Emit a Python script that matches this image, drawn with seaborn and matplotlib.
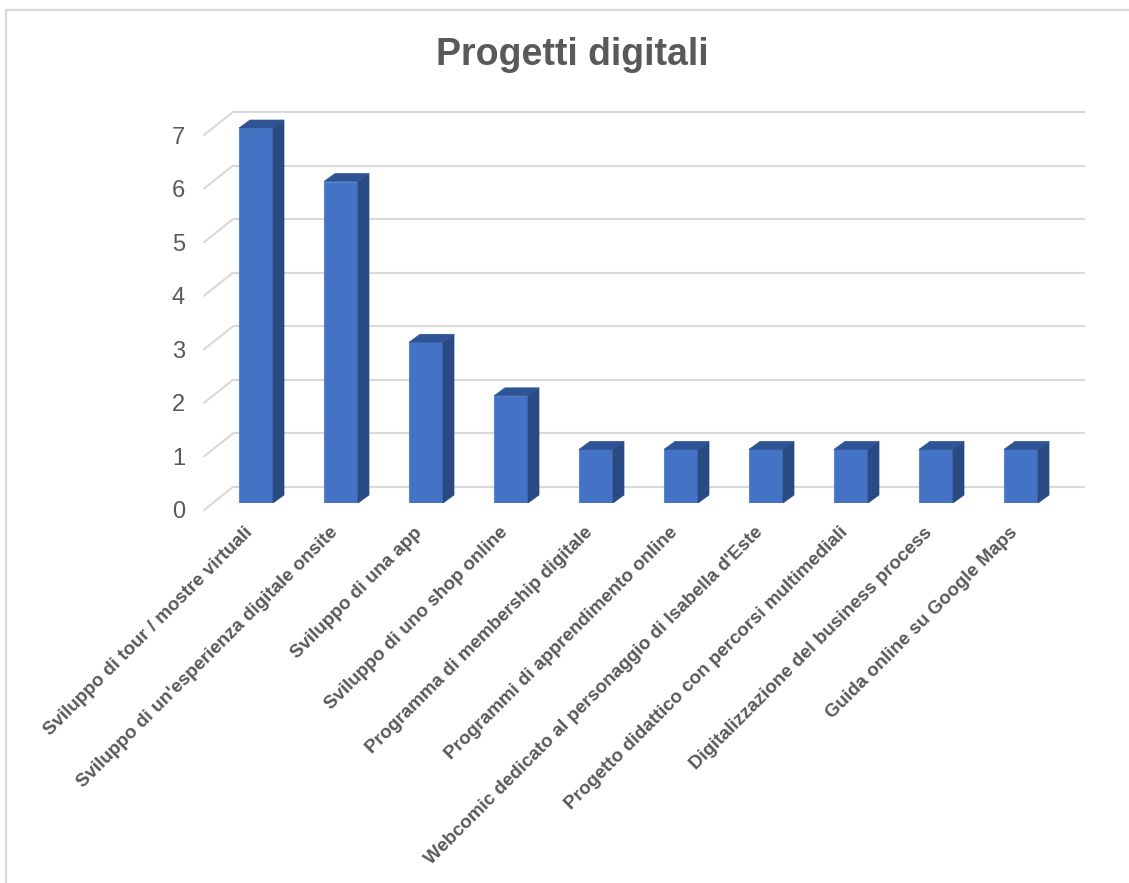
import matplotlib
matplotlib.use("Agg")
import matplotlib.pyplot as plt
import matplotlib.transforms as mtransforms
from matplotlib.patches import Polygon
from matplotlib.lines import Line2D
import seaborn as sns
import pandas as pd

categories = [
    "Sviluppo di tour / mostre virtuali",
    "Sviluppo di un'esperienza digitale onsite",
    "Sviluppo di una app",
    "Sviluppo di uno shop online",
    "Programma di membership digitale",
    "Programmi di apprendimento online",
    "Webcomic dedicato al personaggio di Isabella d'Este",
    "Progetto didattico con percorsi multimediali",
    "Digitalizzazione del business process",
    "Guida online su Google Maps",
]
values = [7, 6, 3, 2, 1, 1, 1, 1, 1, 1]
y_ticks = [0, 1, 2, 3, 4, 5, 6, 7]
title = "Progetti digitali"

sns.set_theme(style="white")
plt.rcParams["font.family"] = ["Liberation Sans", "DejaVu Sans"]

W, H, DPI = 1129, 883, 100
fig = plt.figure(figsize=(W / DPI, H / DPI), dpi=DPI)

# pixel geometry of the plotting box
PX_CAT = 85.0      # pixels between categories
PX_VAL = 53.57     # pixels per unit value
ax_left, ax_right, ax_top, ax_bottom = 204, 1090, 100, 503
first_center = 256
ax = fig.add_axes([ax_left / W, (H - ax_bottom) / H,
                   (ax_right - ax_left) / W, (ax_bottom - ax_top) / H])

df = pd.DataFrame({"categoria": categories, "valore": values})
sns.barplot(data=df, x="categoria", y="valore", color="#4472C4", saturation=1,
            width=34 / PX_CAT, edgecolor="#5b86d2", linewidth=0.8, ax=ax, zorder=3)

ax.set_xlim((ax_left - first_center) / PX_CAT, (ax_right - first_center) / PX_CAT)
ax.set_ylim(0, (ax_bottom - ax_top) / PX_VAL)

# depth of the bars (pixel offsets converted to data units)
bdx, bdy = 11 / PX_CAT, 8 / PX_VAL
for p in list(ax.patches):
    x0 = p.get_x()
    x1 = x0 + p.get_width()
    h = p.get_height()
    side = Polygon([(x1, 0), (x1, h), (x1 + bdx, h + bdy), (x1 + bdx, bdy)],
                   closed=True, facecolor="#2A4A84", edgecolor="#2A4A84",
                   linewidth=0.5, zorder=3)
    top = Polygon([(x0, h), (x1, h), (x1 + bdx, h + bdy), (x0 + bdx, h + bdy)],
                  closed=True, facecolor="#2F5496", edgecolor="#2F5496",
                  linewidth=0.5, zorder=3)
    ax.add_patch(side)
    ax.add_patch(top)

# back-wall gridlines and the slanted floor-to-wall ticks
grid_c = "#d9d9d9"
gy = 16 / PX_VAL
front_dy = 7 / PX_VAL
wall_x0 = (233 - first_center) / PX_CAT
wall_x1 = (1085 - first_center) / PX_CAT
edge_x = (ax_left - first_center) / PX_CAT
for v in y_ticks:
    ax.plot([wall_x0, wall_x1], [v + gy, v + gy], color=grid_c, lw=1.5,
            zorder=1, clip_on=False, solid_capstyle="butt")
    ax.plot([edge_x, wall_x0], [v - front_dy, v + gy], color=grid_c, lw=1.5,
            zorder=1, clip_on=False)

for s in ax.spines.values():
    s.set_visible(False)
ax.set_xlabel("")
ax.set_ylabel("")
ax.grid(False)

ax.set_yticks(y_ticks)
ax.set_yticklabels([str(v) for v in y_ticks], fontsize=17, color="#595959")
ax.tick_params(axis="y", length=0, pad=19 * 0.72)
shift = mtransforms.ScaledTranslation(0, -7 / DPI, fig.dpi_scale_trans)
for t in ax.yaxis.get_major_ticks():
    t.label1.set_transform(t.label1.get_transform() + shift)

ax.set_xticks(range(len(categories)))
ax.set_xticklabels(categories, rotation=45, ha="right", va="center",
                   rotation_mode="anchor", fontsize=13.5, fontweight="bold",
                   color="#595959")
ax.tick_params(axis="x", length=0, pad=27 * 0.72)
xshift = mtransforms.ScaledTranslation(-6 / DPI, 0, fig.dpi_scale_trans)
for t in ax.xaxis.get_major_ticks():
    t.label1.set_transform(t.label1.get_transform() + xshift)

fig.text(572 / W, 1 - 65 / H, title, ha="center", va="baseline",
         fontsize=27, fontweight="bold", color="#595959")

# chart-area frame (left and top edges)
fig.add_artist(Line2D([5.5 / W, 5.5 / W], [0, 1 - 10 / H], color=grid_c,
                      lw=1.6, transform=fig.transFigure))
fig.add_artist(Line2D([5.5 / W, 1], [1 - 10 / H, 1 - 10 / H], color=grid_c,
                      lw=1.6, transform=fig.transFigure))

fig.savefig("out.png", dpi=DPI, facecolor="white")
